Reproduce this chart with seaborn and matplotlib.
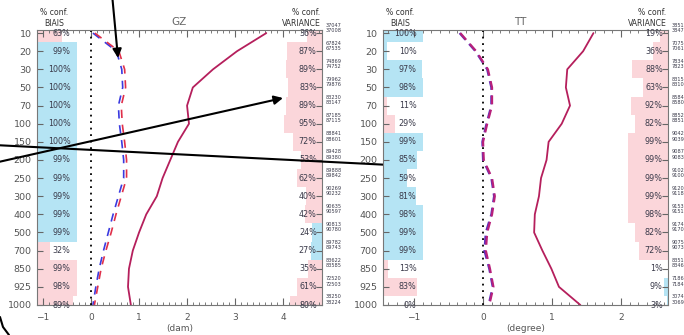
import numpy as np
import matplotlib
matplotlib.use('Agg')
import matplotlib.pyplot as plt
import matplotlib.transforms as mtransforms
from matplotlib.lines import Line2D
import seaborn as sns

sns.set_style('white')
plt.rcParams['font.family'] = ['DejaVu Sans']

# niveaux de pression
levels = ['10', '20', '30', '50', '70', '100', '150', '200', '250', '300',
          '400', '500', '700', '850', '925', '1000']

# GZ
gz_bias_conf = [63, 99, 100, 100, 100, 100, 100, 99, 99, 99, 99, 99, 32, 99, 98, 89]
gz_bias_sign = ['p', 'b', 'b', 'b', 'b', 'b', 'b', 'b', 'b', 'b', 'b', 'b', 'p', 'p', 'p', 'p']
gz_var_conf = [36, 87, 89, 83, 89, 95, 72, 53, 62, 40, 42, 24, 27, 35, 61, 80]
gz_var_sign = ['p', 'p', 'p', 'p', 'p', 'p', 'p', 'p', 'p', 'p', 'p', 'b', 'b', 'p', 'p', 'p']
gz_count_a = [37047, 67824, 74869, 79962, 83230, 87185, 88841, 89428, 89888, 90269,
              90635, 90813, 89782, 83622, 72520, 38250]
gz_count_b = [37008, 67535, 74752, 79876, 83147, 87115, 88601, 89380, 89842, 90232,
              90597, 90780, 89743, 83585, 72503, 38224]
gz_std = [3.65, 3.04, 2.54, 2.12, 2.0, 2.04, 1.81, 1.65, 1.49, 1.37, 1.15, 1.0,
          0.87, 0.79, 0.77, 0.83]
gz_bias_blue = [0.04, 0.53, 0.64, 0.66, 0.57, 0.59, 0.64, 0.68, 0.68, 0.57, 0.46,
                0.36, 0.26, 0.17, 0.10, 0.04]
gz_bias_red = [0.08, 0.58, 0.70, 0.72, 0.63, 0.65, 0.70, 0.74, 0.74, 0.63, 0.52,
               0.42, 0.31, 0.21, 0.14, 0.07]

# TT
tt_bias_conf = [100, 10, 97, 98, 11, 29, 99, 85, 59, 81, 98, 99, 99, 13, 83, 0]
tt_bias_sign = ['b', 'b', 'b', 'b', 'p', 'p', 'b', 'b', 'b', 'b', 'b', 'b', 'b', 'p', 'p', 'p']
tt_var_conf = [19, 36, 88, 63, 92, 82, 99, 99, 99, 99, 98, 82, 72, 1, 9, 3]
tt_var_sign = ['p', 'p', 'p', 'p', 'p', 'p', 'p', 'p', 'p', 'p', 'p', 'p', 'p', 'p', 'b', 'b']
tt_count_a = [38512, 70756, 78347, 83156, 85847, 88524, 90426, 90871, 91024, 91207,
              91538, 91746, 90752, 83518, 71862, 30741]
tt_count_b = [38471, 70612, 78236, 83102, 85803, 88511, 90391, 90832, 91002, 91186,
              91517, 91708, 90731, 83467, 71845, 30698]
tt_std = [1.6, 1.45, 1.22, 1.2, 1.26, 1.14, 0.95, 0.92, 0.84, 0.81, 0.75, 0.74,
          0.86, 0.99, 1.1, 1.41]
tt_bias_blue = [-0.34, -0.11, 0.06, 0.12, 0.12, 0.05, -0.01, 0.0, 0.12, 0.16, 0.12,
                0.04, 0.02, 0.09, 0.14, 0.08]
tt_bias_red = [-0.33, -0.1, 0.07, 0.13, 0.13, 0.06, 0.0, 0.01, 0.13, 0.17, 0.13,
               0.06, 0.04, 0.1, 0.15, 0.09]

BLUE = '#b5e4f4'
PINK = '#fbd6da'
TXT = '#3a3a4a'
SOLID = '#b51f5c'
W, H = 684, 335


def panel(rect, xlim, name, unit, bias_conf, bias_sign, var_conf, var_sign,
          cnt_a, cnt_b, std, b_blue, b_red, tt=False):
    ax = fig.add_axes(rect)
    y = np.arange(len(levels))
    span = xlim[1] - xlim[0]
    frac = 0.142
    cols = {'b': BLUE, 'p': PINK}

    # barres de confiance (biais a gauche, variance a droite)
    bw = [c / 100 * frac * span for c in bias_conf]
    ax.barh(y, bw, left=xlim[0], height=1.0, color=[cols[s] for s in bias_sign],
            edgecolor='none', zorder=0)
    vw = [c / 100 * frac * span for c in var_conf]
    ax.barh(y, vw, left=[xlim[1] - w for w in vw], height=1.0,
            color=[cols[s] for s in var_sign], edgecolor='none', zorder=0)

    ax.axvline(0, color='black', ls=(0, (1, 2.6)), lw=1.3, zorder=1)

    sns.lineplot(x=std, y=y, sort=False, estimator=None, ax=ax, color=SOLID, lw=1.3)
    if tt:
        sns.lineplot(x=b_blue, y=y, sort=False, estimator=None, ax=ax, color='#5a2fc0',
                     lw=1.6, linestyle=(0, (4, 2.5)))
        sns.lineplot(x=b_red, y=y, sort=False, estimator=None, ax=ax, color='#b8207a',
                     lw=1.6, linestyle=(0, (4, 2.5)))
    else:
        sns.lineplot(x=b_blue, y=y, sort=False, estimator=None, ax=ax, color='#3a3ae0',
                     lw=1.2, linestyle=(0, (5, 4)))
        sns.lineplot(x=b_red, y=y, sort=False, estimator=None, ax=ax, color='#e0304a',
                     lw=1.2, linestyle=(0, (5, 4)))

    trans = mtransforms.blended_transform_factory(ax.transAxes, ax.transData)
    for i in range(len(levels)):
        ax.text(0.118, i, f'{bias_conf[i]}%', transform=trans, ha='right',
                va='center', fontsize=5.8, color=TXT)
        ax.text(0.982, i, f'{var_conf[i]}%', transform=trans, ha='right',
                va='center', fontsize=5.8, color=TXT)
        ax.text(1.014, i - 0.3, f'{cnt_a[i]}\n{cnt_b[i]}', transform=trans, ha='left',
                va='center', fontsize=3.6, linespacing=1.05, color=TXT)

    ax.set_xlim(*xlim)
    ax.set_ylim(15, -0.17)
    ax.set_yticks(y)
    ax.set_yticklabels(levels)
    ax.set_xticks(np.arange(np.ceil(xlim[0]), xlim[1], 1))
    ax.set_xticks(np.arange(np.ceil(xlim[0] * 8) / 8, xlim[1], 0.125), minor=True)
    ax.xaxis.set_major_formatter(plt.FuncFormatter(lambda v, p: f'{v:g}'.replace('-', '\u2212')))
    ax.tick_params(axis='x', which='major', direction='in', length=5, top=True,
                   bottom=True, labelsize=6.5, labelcolor='#555555', pad=6, color='#666666')
    ax.tick_params(axis='x', which='minor', direction='in', length=2.5, top=True,
                   bottom=True, color='#666666')
    ax.tick_params(axis='y', direction='in', length=4, left=True, right=True,
                   labelsize=6.8, labelcolor='#555555', pad=4, color='#666666')
    for sp in ax.spines.values():
        sp.set_color('#777777')
        sp.set_linewidth(0.8)
    ax.set_xlabel(unit, fontsize=6.5, color='#555555', labelpad=1)
    ax.set_ylabel('')

    ax.text(0.48 if tt else 0.5, 1.012, name, transform=ax.transAxes, ha='center',
            va='bottom', fontsize=7.5, color='#666666')
    ax.text(0.06, 1.008, '% conf.\nBIAIS', transform=ax.transAxes, ha='center',
            va='bottom', fontsize=5.6, color='#333333', linespacing=1.25)
    ax.text(0.995, 1.008, '% conf.\nVARIANCE', transform=ax.transAxes, ha='right',
            va='bottom', fontsize=5.6, color='#333333', linespacing=1.25,
            multialignment='right')
    return ax


fig = plt.figure(figsize=(W / 100, H / 100), dpi=100)
fig.patch.set_facecolor('white')

bottom = 30 / H
height = 275 / H
ax1 = panel([37 / W, bottom, 285 / W, height], (-1.125, 4.81), 'GZ', '(dam)',
            gz_bias_conf, gz_bias_sign, gz_var_conf, gz_var_sign, gz_count_a, gz_count_b,
            gz_std, gz_bias_blue, gz_bias_red)
ax2 = panel([383 / W, bottom, 285 / W, height], (-1.45, 2.68), 'TT', '(degree)',
            tt_bias_conf, tt_bias_sign, tt_var_conf, tt_var_sign, tt_count_a, tt_count_b,
            tt_std, tt_bias_blue, tt_bias_red, tt=True)

# fleches d'annotation (en pixels de la figure, origine en bas)
arrows = [((112, -6), (118, 58)), ((-6, 163), (283, 98)), ((-6, 145), (628, 177))]
for (x0, y0), (x1, y1) in arrows:
    ax1.annotate('', xy=(x1, H - y1), xytext=(x0, H - y0), xycoords='figure pixels',
                 textcoords='figure pixels', annotation_clip=False,
                 arrowprops=dict(arrowstyle='-|>', color='black', lw=1.5,
                                 mutation_scale=13, shrinkA=0, shrinkB=0))
fig.add_artist(Line2D([0, 3, 9], [18, 8, 0], transform=None, color='black', lw=1.5))

fig.savefig('out.png', dpi=100)
